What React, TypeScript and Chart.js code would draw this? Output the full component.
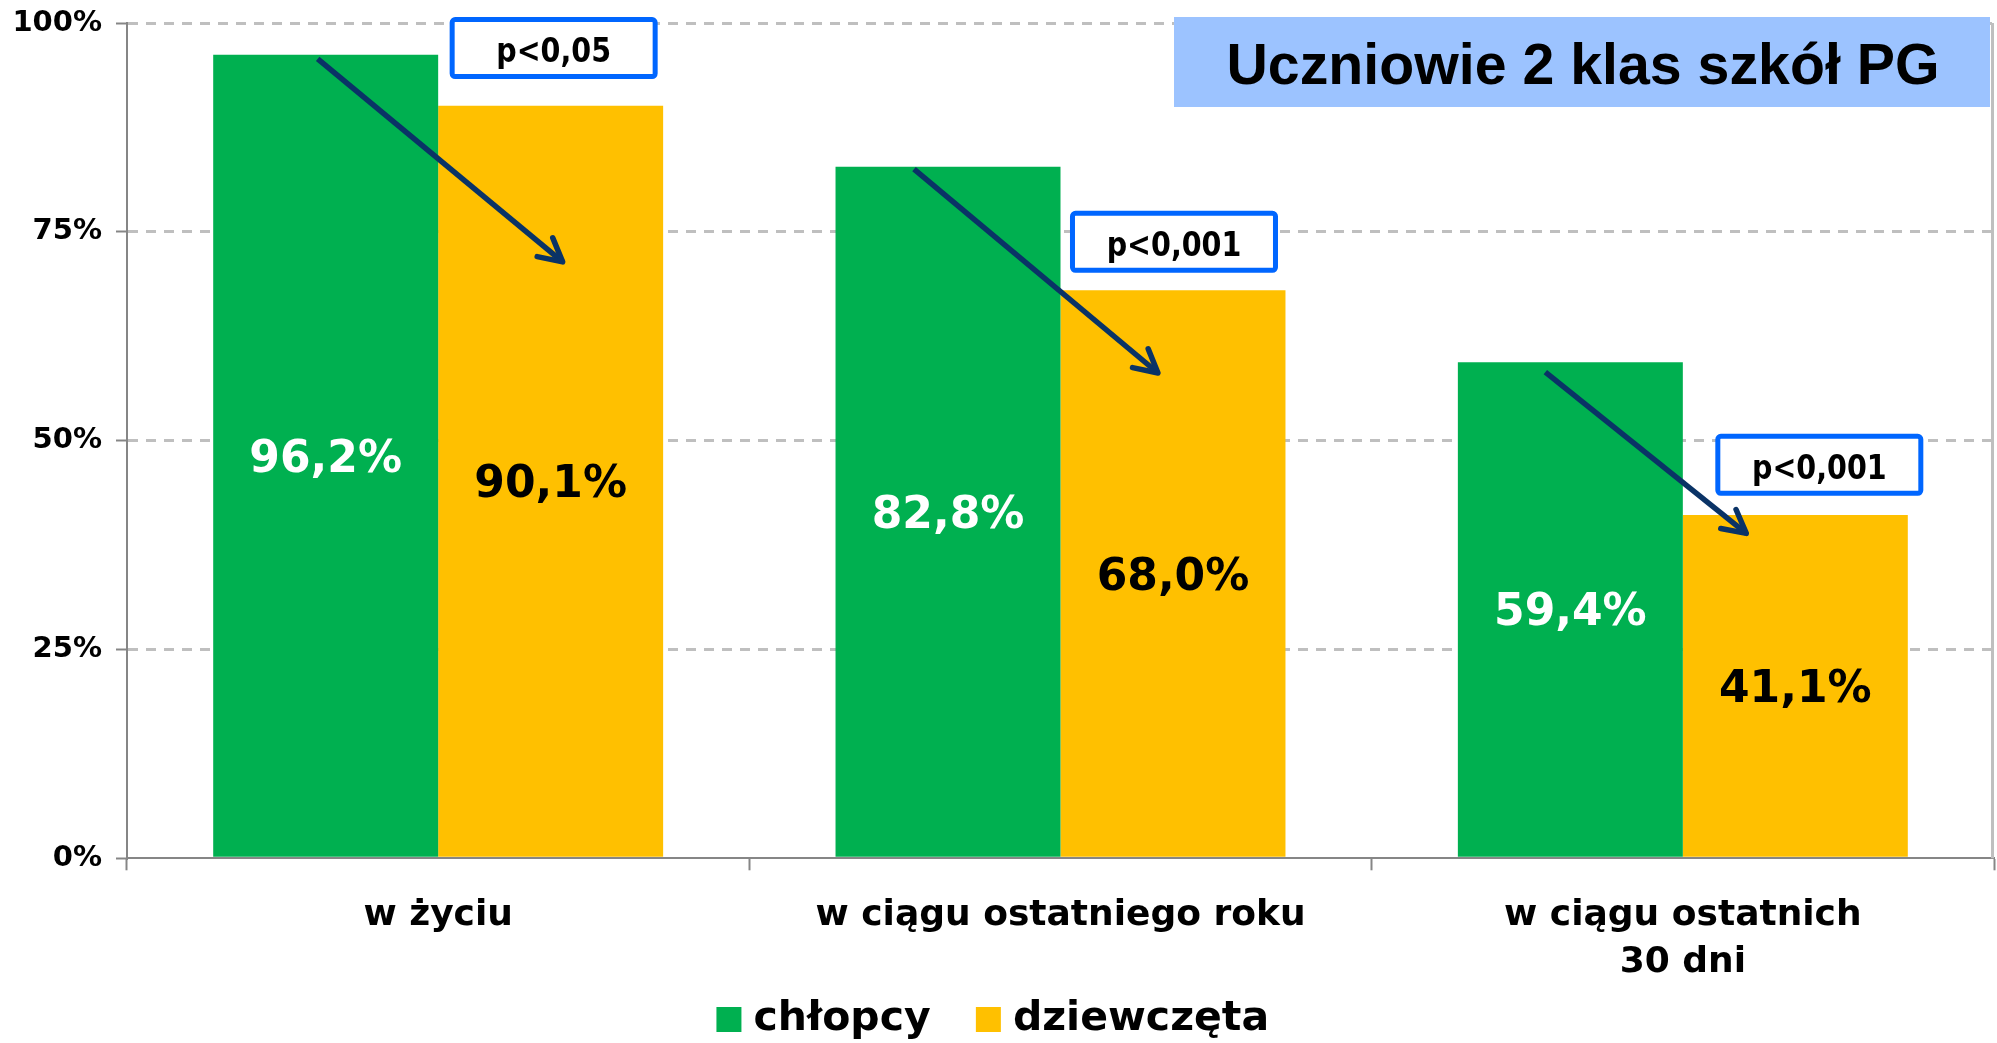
import React, { useEffect, useRef } from 'react';
import { Chart, registerables } from 'chart.js';

Chart.register(...registerables);

// ---- data ----
const categories: (string | string[])[] = [
  'w życiu',
  'w ciągu ostatniego roku',
  ['w ciągu ostatnich', '30 dni'],
];
const seriesNames = ['chłopcy', 'dziewczęta'];
const boys = [96.2, 82.8, 59.4];
const girls = [90.1, 68.0, 41.1];
const yTicks = [0, 25, 50, 75, 100];
const pValues = ['p<0,05', 'p<0,001', 'p<0,001'];
// annotation anchors (in % units of the value axis)
const arrowFrom = [95.7, 82.5, 58.2];
const arrowTo = [71.4, 58.1, 38.9];
const pBoxLevel = [97.0, 73.8, 47.1];
const chartTitle = 'Uczniowie 2 klas szkół PG';

// ---- styles ----
const GREEN = '#00B050';
const YELLOW = '#FFC000';
const AXIS = '#868686';
const GRID = '#BFBFBF';
const ARROW = '#0A3366';
const BOX_BLUE = '#0066FF';
const TITLE_BG = '#9CC3FF';
const FONT = '"DejaVu Sans", Verdana, sans-serif';

// arrow offsets (px) relative to the green / yellow bar centres
const arrowStartDx = [-8, -34, -25];
const arrowEndDx = [12, -15, -49];
const pBoxDx = [3, 1, 24];

const fmt = (v: number) => v.toFixed(1).replace('.', ',') + '%';

const decorPlugin = {
  id: 'decor',
  beforeDatasetsDraw(chart: any) {
    const { ctx, chartArea: a } = chart;
    ctx.save();
    ctx.strokeStyle = GRID;
    ctx.lineWidth = 3;
    ctx.beginPath();
    ctx.moveTo(a.right - 1.5, a.top);
    ctx.lineTo(a.right - 1.5, a.bottom);
    ctx.stroke();
    ctx.restore();
  },
  afterDatasetsDraw(chart: any) {
    const { ctx } = chart;
    const yScale = chart.scales.y;
    const m0 = chart.getDatasetMeta(0);
    const m1 = chart.getDatasetMeta(1);

    // value labels
    [m0, m1].forEach((meta: any, di: number) => {
      meta.data.forEach((bar: any, i: number) => {
        const v = chart.data.datasets[di].data[i] as number;
        const yc = (bar.y + bar.base) / 2;
        ctx.save();
        ctx.font = `bold 44px ${FONT}`;
        ctx.fillStyle = di === 0 ? '#FFFFFF' : '#000000';
        ctx.textAlign = 'center';
        ctx.textBaseline = 'alphabetic';
        ctx.fillText(fmt(v), bar.x, yc + 16);
        ctx.restore();
      });
    });

    // arrows
    m0.data.forEach((bar: any, i: number) => {
      const yb = m1.data[i];
      const x0 = bar.x + arrowStartDx[i];
      const y0 = yScale.getPixelForValue(arrowFrom[i]);
      const x1 = yb.x + arrowEndDx[i];
      const y1 = yScale.getPixelForValue(arrowTo[i]);
      const ang = Math.atan2(y1 - y0, x1 - x0);
      const back = ang + Math.PI;
      const wing = 26;
      const spread = (28 * Math.PI) / 180;
      ctx.save();
      ctx.strokeStyle = ARROW;
      ctx.lineWidth = 5.5;
      ctx.lineCap = 'butt';
      ctx.lineJoin = 'round';
      ctx.beginPath();
      ctx.moveTo(x0, y0);
      ctx.lineTo(x1, y1);
      ctx.stroke();
      ctx.lineCap = 'round';
      ctx.beginPath();
      ctx.moveTo(x1 + wing * Math.cos(back - spread), y1 + wing * Math.sin(back - spread));
      ctx.lineTo(x1, y1);
      ctx.lineTo(x1 + wing * Math.cos(back + spread), y1 + wing * Math.sin(back + spread));
      ctx.stroke();
      ctx.restore();
    });

    // p-value boxes
    m1.data.forEach((bar: any, i: number) => {
      const cx = bar.x + pBoxDx[i];
      const cy = yScale.getPixelForValue(pBoxLevel[i]);
      const w = 203;
      const h = 57;
      ctx.save();
      ctx.fillStyle = '#FFFFFF';
      ctx.strokeStyle = BOX_BLUE;
      ctx.lineWidth = 5;
      ctx.beginPath();
      ctx.roundRect(cx - w / 2, cy - h / 2, w, h, 3);
      ctx.fill();
      ctx.stroke();
      ctx.font = `bold 34px ${FONT}`;
      ctx.fillStyle = '#000000';
      ctx.textAlign = 'center';
      ctx.textBaseline = 'alphabetic';
      ctx.translate(cx, cy + 2 + 12.4);
      ctx.scale(0.84, 1);
      ctx.fillText(pValues[i], 0, 0);
      ctx.restore();
    });
  },
  afterDraw(chart: any) {
    const { ctx, chartArea: a } = chart;
    const right = a.right - 4;
    const left = right - 816;
    const top = a.top - 6;
    const bottom = top + 90;
    ctx.save();
    ctx.fillStyle = TITLE_BG;
    ctx.fillRect(left, top, right - left, bottom - top);
    ctx.font = 'bold 58px "Liberation Sans", Arial, sans-serif';
    ctx.fillStyle = '#000000';
    ctx.textAlign = 'center';
    ctx.textBaseline = 'alphabetic';
    const w = ctx.measureText(chartTitle).width;
    const sx = Math.min(1, 713 / w);
    ctx.translate((left + right) / 2 + 1, (top + bottom) / 2 + 22);
    ctx.scale(sx, 1);
    ctx.fillText(chartTitle, 0, 0);
    ctx.restore();
  },
};

export default function App() {
  const ref = useRef<HTMLCanvasElement>(null);

  useEffect(() => {
    if (!ref.current) return;
    const chart = new Chart(ref.current, {
      type: 'bar',
      data: {
        labels: categories,
        datasets: [
          {
            label: seriesNames[0],
            data: boys,
            backgroundColor: GREEN,
            borderWidth: 0,
            categoryPercentage: 0.723,
            barPercentage: 1,
          },
          {
            label: seriesNames[1],
            data: girls,
            backgroundColor: YELLOW,
            borderWidth: 0,
            categoryPercentage: 0.723,
            barPercentage: 1,
          },
        ],
      },
      options: {
        responsive: false,
        animation: false,
        devicePixelRatio: 1,
        layout: { padding: { left: 0, right: 3, top: 23, bottom: 0 } },
        plugins: {
          legend: {
            display: true,
            position: 'bottom',
            labels: {
              font: { family: FONT, size: 41, weight: 'bold' },
              color: '#000000',
              usePointStyle: true,
              pointStyle: 'rect',
              boxWidth: 8,
              boxHeight: 25,
              padding: 8.5,
              generateLabels: (c: any) => {
                const base = (Chart as any).defaults.plugins.legend.labels.generateLabels(c);
                const spacer = {
                  text: '\u2009',
                  fillStyle: 'rgba(0,0,0,0)',
                  strokeStyle: 'rgba(0,0,0,0)',
                  lineWidth: 0,
                  pointStyle: 'rect',
                  hidden: false,
                  datasetIndex: -1,
                };
                return [base[0], spacer, base[1]];
              },
            },
          },
          tooltip: { enabled: false },
          title: { display: false },
        },
        scales: {
          x: {
            offset: true,
            grid: {
              display: true,
              drawOnChartArea: false,
              drawTicks: true,
              offset: true,
              tickLength: 12,
              tickColor: AXIS,
              tickWidth: 2,
            },
            border: { display: true, color: AXIS, width: 2 },
            ticks: {
              color: '#000000',
              font: { family: FONT, size: 36, weight: 'bold', lineHeight: 1.3 },
              padding: 22,
              maxRotation: 0,
              autoSkip: false,
            },
            afterFit: (s: any) => {
              s.height = 132.2;
            },
          },
          y: {
            min: 0,
            max: 100,
            afterBuildTicks: (s: any) => {
              s.ticks = yTicks.map((v) => ({ value: v }));
            },
            grid: {
              color: (c: any) => (c.tick && c.tick.value === 0 ? 'rgba(0,0,0,0)' : GRID),
              lineWidth: 3,
              drawTicks: true,
              tickLength: 11,
              tickColor: AXIS,
              tickWidth: 2,
              tickBorderDash: [],
            },
            border: { display: true, color: AXIS, width: 2, dash: [10, 8] },
            ticks: {
              color: '#000000',
              font: { family: FONT, size: 29, weight: 'bold' },
              padding: 14,
              callback: (v: any) => v + '%',
            },
            afterFit: (s: any) => {
              s.width = 127;
              s.paddingTop = 0;
              s.paddingBottom = 0;
            },
          },
        },
      },
      plugins: [decorPlugin],
    } as any);
    return () => chart.destroy();
  }, []);

  return (
    <div
      style={{
        position: 'fixed',
        left: 0,
        top: 0,
        width: 1997,
        height: 1043,
        overflow: 'hidden',
        background: '#FFFFFF',
      }}
    >
      <canvas
        ref={ref}
        width={1997}
        height={1050}
        style={{ display: 'block', width: 1997, height: 1050 }}
      />
    </div>
  );
}
